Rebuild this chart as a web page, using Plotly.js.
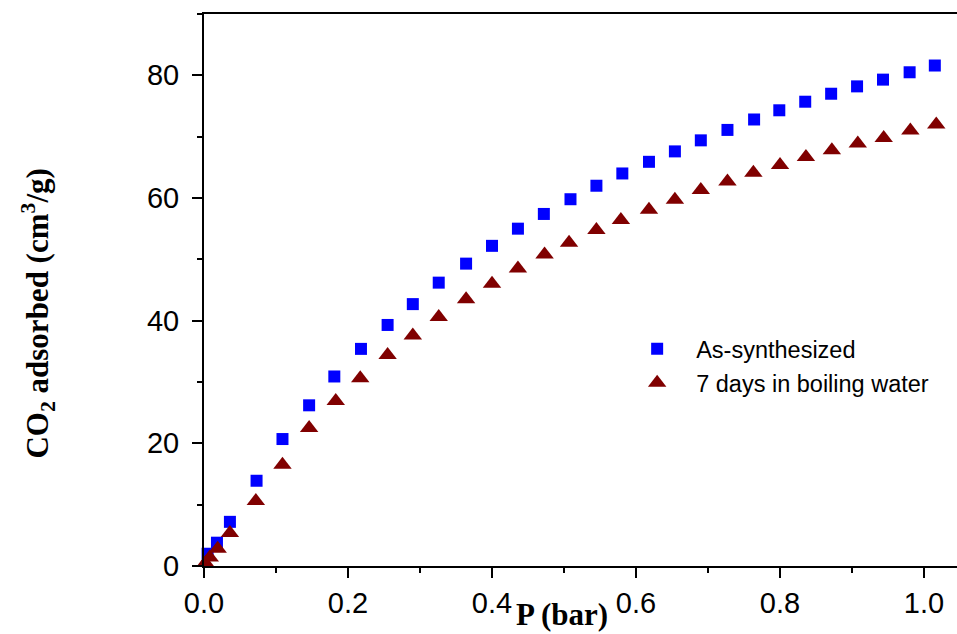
<!DOCTYPE html>
<html>
<head>
<meta charset="utf-8">
<script src="https://cdn.plot.ly/plotly-3.0.1.min.js"></script>
<style>html,body{margin:0;padding:0;background:#fff;}#chart{width:957px;height:634px;}</style>
</head>
<body>
<div id="chart"></div>
<script>
// Pressure (bar) and CO2 uptake (cm3/g)
var pressureAs = [0.005, 0.018, 0.036, 0.073, 0.109, 0.146, 0.181, 0.218, 0.255, 0.290, 0.326, 0.364, 0.400, 0.436, 0.472, 0.509, 0.545, 0.581, 0.618, 0.654, 0.690, 0.727, 0.764, 0.799, 0.835, 0.871, 0.907, 0.943, 0.980, 1.015];
var uptakeAs = [2.0, 3.8, 7.2, 13.9, 20.7, 26.2, 30.9, 35.4, 39.3, 42.7, 46.2, 49.3, 52.2, 55.0, 57.4, 59.8, 62.0, 64.0, 65.9, 67.6, 69.4, 71.1, 72.8, 74.3, 75.7, 77.0, 78.2, 79.3, 80.5, 81.6];
var pressureBoil = [0.002, 0.008, 0.019, 0.036, 0.072, 0.109, 0.146, 0.183, 0.217, 0.255, 0.290, 0.326, 0.364, 0.400, 0.436, 0.473, 0.507, 0.545, 0.579, 0.618, 0.654, 0.690, 0.727, 0.763, 0.800, 0.836, 0.872, 0.908, 0.944, 0.981, 1.017];
var uptakeBoil = [0.5, 1.4, 2.8, 5.4, 10.6, 16.5, 22.5, 26.9, 30.6, 34.4, 37.6, 40.6, 43.5, 46.0, 48.5, 50.8, 52.7, 54.8, 56.4, 58.1, 59.7, 61.3, 62.7, 64.1, 65.4, 66.7, 67.8, 68.9, 69.8, 71.0, 72.0];
var seriesNames = ["As-synthesized", "7 days in boiling water"];
var xTickVals = [0, 0.2, 0.4, 0.6, 0.8, 1.0];
var xTickText = ["0.0", "0.2", "0.4", "0.6", "0.8", "1.0"];
var yTickVals = [0, 20, 40, 60, 80];
var xTitle = "P (bar)";
var yTitle = "CO<sub>2</sub> adsorbed (cm<sup>3</sup>/g)";

var traces = [
  {x: pressureAs, y: uptakeAs, name: seriesNames[0], type: "scatter", mode: "markers", cliponaxis: false,
   marker: {symbol: "square", size: 12, color: "#0000FF", line: {width: 0}}, legend: "legend"},
  {x: pressureBoil, y: uptakeBoil, name: seriesNames[1], type: "scatter", mode: "markers", cliponaxis: false,
   marker: {symbol: "triangle-up", size: 16, color: "#800000", line: {width: 0}}, legend: "legend2"}
];

var tickFont = {family: "Liberation Sans, Arial, sans-serif", size: 29, color: "#000"};
var legFont = {family: "Liberation Sans, Arial, sans-serif", size: 23.5, color: "#000"};

var layout = {
  width: 957, height: 634,
  margin: {l: 204, r: 0, t: 14, b: 68, pad: 0},
  paper_bgcolor: "#fff", plot_bgcolor: "#fff",
  showlegend: true,
  xaxis: {
    range: [0, 1.0458], showgrid: false, zeroline: false,
    showline: true, linecolor: "#000", linewidth: 2, mirror: true,
    ticks: "outside", ticklen: 10, tickwidth: 2, tickcolor: "#000",
    tickmode: "array", tickvals: xTickVals, ticktext: xTickText,
    tickfont: tickFont, ticklabelstandoff: 0,
    minor: {ticks: "outside", ticklen: 5, tickwidth: 2, tickcolor: "#000", dtick: 0.1, tick0: 0, showgrid: false}
  },
  yaxis: {
    range: [0, 90], showgrid: false, zeroline: false,
    showline: true, linecolor: "#000", linewidth: 2,
    ticks: "outside", ticklen: 10, tickwidth: 2, tickcolor: "#000",
    tickmode: "array", tickvals: yTickVals,
    tickfont: tickFont, ticklabelstandoff: 7,
    minor: {ticks: "outside", ticklen: 5, tickwidth: 2, tickcolor: "#000", dtick: 10, tick0: 0, showgrid: false}
  },
  legend: {x: 0.55, y: 0.393, xanchor: "left", yanchor: "middle", font: legFont, bgcolor: "rgba(0,0,0,0)", itemwidth: 68, borderwidth: 0},
  legend2: {x: 0.55, y: 0.3315, xanchor: "left", yanchor: "middle", font: legFont, bgcolor: "rgba(0,0,0,0)", itemwidth: 68, borderwidth: 0},
  annotations: [
    {text: "<b>" + xTitle + "</b>", xref: "paper", yref: "paper", x: 0.475, y: -0.087, xanchor: "center", yanchor: "middle",
     showarrow: false, font: {family: "Liberation Serif, Times New Roman, serif", size: 31, color: "#000"}},
    {text: "<b>" + yTitle + "</b>", xref: "paper", yref: "paper", x: -0.22, y: 0.458, xanchor: "center", yanchor: "middle",
     textangle: -90, showarrow: false, font: {family: "Liberation Serif, Times New Roman, serif", size: 31, color: "#000"}}
  ]
};

Plotly.newPlot("chart", traces, layout, {displayModeBar: false, staticPlot: true});
</script>
</body>
</html>
